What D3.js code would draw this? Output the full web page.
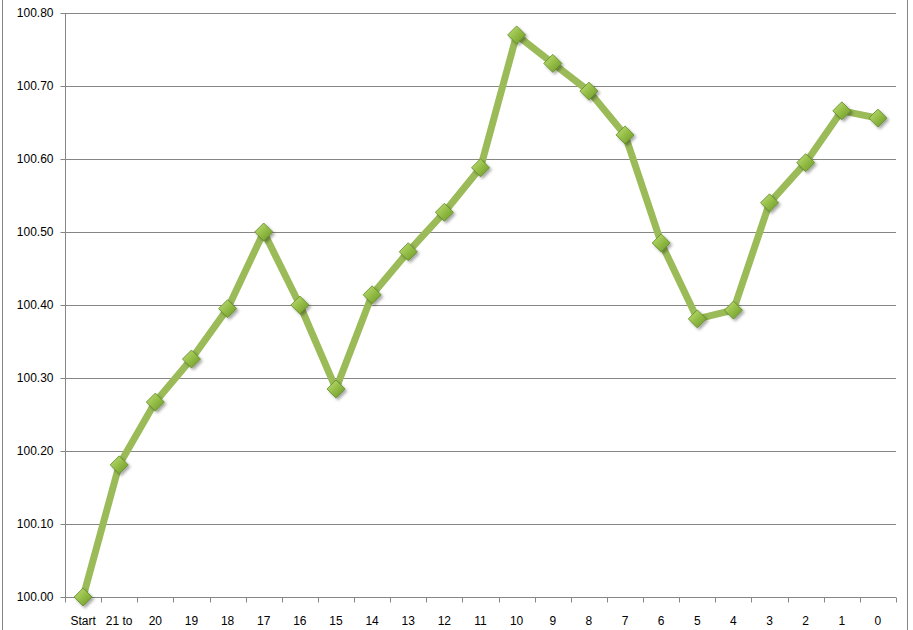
<!DOCTYPE html>
<html><head><meta charset="utf-8">
<script src="https://cdn.jsdelivr.net/npm/d3@7/dist/d3.min.js"></script>
<style>body{margin:0;background:#fff;}svg{display:block;}</style>
</head><body>
<script>
const categories = ["Start","21 to","20","19","18","17","16","15","14","13","12","11","10","9","8","7","6","5","4","3","2","1","0"];
const values = [100.000,100.181,100.267,100.326,100.395,100.500,100.400,100.285,100.414,100.473,100.527,100.588,100.770,100.731,100.693,100.633,100.485,100.381,100.393,100.540,100.595,100.666,100.656];
const yTicks = [100.00,100.10,100.20,100.30,100.40,100.50,100.60,100.70,100.80];

const W = 913, H = 630;
const m = {left:65, right:17, top:13, bottom:33};
const svg = d3.select("body").append("svg").attr("width",W).attr("height",H);
const defs = svg.append("defs");
const g1 = defs.append("linearGradient").attr("id","mk").attr("x1","0").attr("y1","0").attr("x2","1").attr("y2","1");
g1.append("stop").attr("offset","0%").attr("stop-color","#c4e07c");
g1.append("stop").attr("offset","50%").attr("stop-color","#93bd45");
g1.append("stop").attr("offset","100%").attr("stop-color","#6b9428");
const f = defs.append("filter").attr("id","sh").attr("x","-50%").attr("y","-50%").attr("width","200%").attr("height","200%");
f.append("feDropShadow").attr("dx",2).attr("dy",2).attr("stdDeviation",1.5).attr("flood-color","#000").attr("flood-opacity",0.35);

// chart frame
svg.append("rect").attr("x",2.5).attr("y",-5).attr("width",905).attr("height",H+10)
  .attr("fill","none").attr("stroke","#868686").attr("stroke-width",1);

const x = d3.scaleBand().domain(categories).range([m.left, W-m.right]).paddingInner(0).paddingOuter(0);
const y = d3.scaleLinear().domain([100.0,100.8]).range([H-m.bottom, m.top]);

// gridlines
svg.append("g").selectAll("line").data(yTicks).join("line")
  .attr("x1",m.left).attr("x2",W-m.right)
  .attr("y1",d=>Math.round(y(d))+0.5).attr("y2",d=>Math.round(y(d))+0.5)
  .attr("stroke","#868686").attr("stroke-width",1);

// y axis
const ya = svg.append("g").attr("transform",`translate(${m.left+0.5},0)`)
  .call(d3.axisLeft(y).tickValues(yTicks).tickFormat(d3.format(".2f")).tickSize(5).tickPadding(7));
ya.select(".domain").attr("stroke","#868686").attr("d",`M-0,${m.top}V${H-m.bottom}`);
ya.selectAll(".tick line").attr("stroke","#868686");
ya.selectAll(".tick").attr("transform",d=>`translate(0,${Math.round(y(d))+0.5})`);
ya.selectAll("text").attr("font-family","Liberation Sans, Arial, sans-serif").attr("font-size",12).attr("fill","#000");

// x axis
const xa = svg.append("g").attr("transform",`translate(0,${Math.round(y(100))+0.5})`);
xa.append("line").attr("x1",m.left).attr("x2",W-m.right).attr("stroke","#868686");
const bounds = categories.map((c)=>x(c)).concat([W-m.right]);
xa.selectAll("line.tk").data(bounds).join("line").attr("class","tk")
  .attr("x1",d=>Math.round(d)+0.5).attr("x2",d=>Math.round(d)+0.5).attr("y1",0).attr("y2",5)
  .attr("stroke","#868686");
xa.selectAll("text").data(categories).join("text")
  .attr("x",d=>x(d)+x.bandwidth()/2).attr("y",27)
  .attr("text-anchor","middle").attr("font-family","Liberation Sans, Arial, sans-serif")
  .attr("font-size",12).attr("fill","#000").text(d=>d);

// line
const pts = categories.map((c,i)=>[x(c)+x.bandwidth()/2, y(values[i])]);
svg.append("path").attr("d",d3.line()(pts)).attr("fill","none")
  .attr("stroke","#9bbb59").attr("stroke-width",7).attr("stroke-linejoin","round");

// markers
const s = 9;
svg.append("g").selectAll("path").data(pts).join("path")
  .attr("d",d=>`M${d[0]},${d[1]-s}L${d[0]+s},${d[1]}L${d[0]},${d[1]+s}L${d[0]-s},${d[1]}Z`)
  .attr("fill","url(#mk)").attr("stroke","#5e8a25").attr("stroke-width",0.8)
  .attr("filter","url(#sh)");
</script>
</body></html>
